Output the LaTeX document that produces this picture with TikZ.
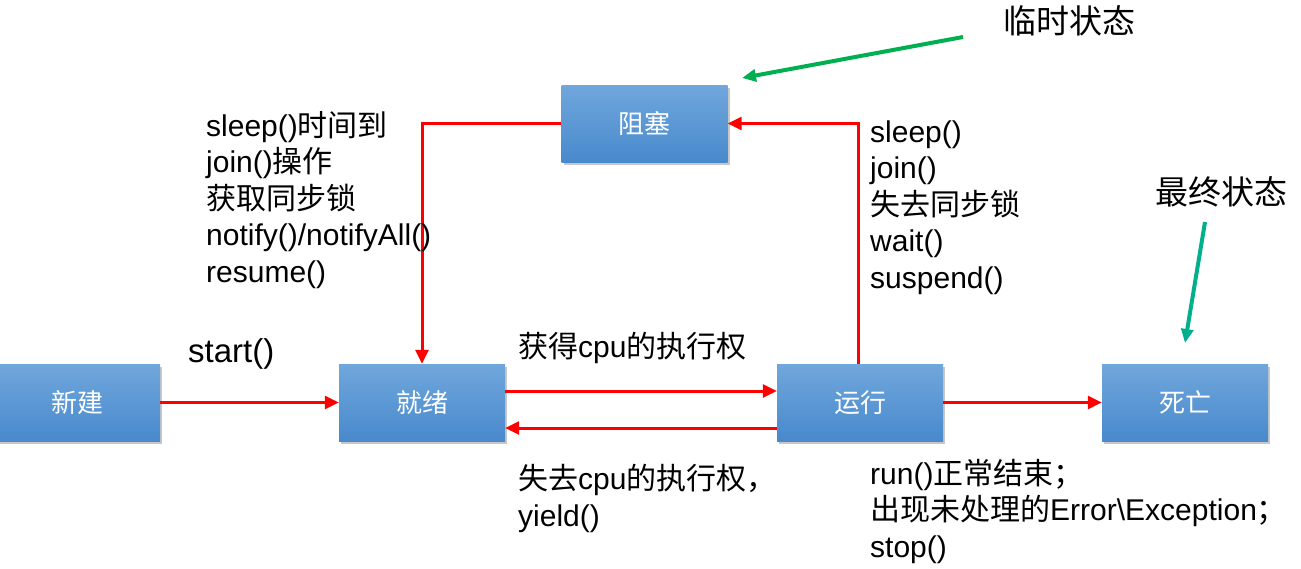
\documentclass[tikz,border=0pt]{standalone}
\usepackage{fontspec}
\setmainfont{Liberation Sans}
\newfontfamily\cjk{Noto Sans CJK SC}
\newcommand{\zh}[1]{{\cjk #1}}
\usetikzlibrary{arrows.meta,shadows}
\definecolor{boxtop}{RGB}{112,167,220}
\definecolor{boxbot}{RGB}{72,137,204}
\definecolor{redline}{RGB}{255,0,0}
\definecolor{greenA}{RGB}{0,176,80}
\definecolor{greenB}{RGB}{0,176,140}
\begin{document}
\begin{tikzpicture}[x=1pt,y=-1pt,
  statebox/.style={rectangle, minimum width=166pt, minimum height=77pt, inner sep=0pt,
    top color=boxtop, bottom color=boxbot, draw=none, text=white,
    font=\fontsize{26}{30}\selectfont\cjk,
    drop shadow={shadow xshift=2pt, shadow yshift=-3pt, fill=black, opacity=0.22}},
  redarrow/.style={draw=redline, line width=3pt, -{Triangle[length=14pt,width=13pt]}},
  greenarrow/.style={line width=4pt, -{Triangle[length=14pt,width=12pt]}},
  lbl/.style={inner sep=0pt, anchor=base west, align=left,
    font=\fontsize{30}{36.5}\selectfont},
  big/.style={inner sep=0pt, anchor=base west, font=\fontsize{33}{38}\selectfont}]
\useasboundingbox (0,0) rectangle (1301,568);
% states
\node[statebox] (xj) at (77,402.5) {新建};
\node[statebox] (jx) at (422,402.5) {就绪};
\node[statebox] (yx) at (860,402.5) {运行};
\node[statebox] (sw) at (1185,402.5) {死亡};
\node[statebox] (zs) at (644.5,123.5) {阻塞};
% connectors
\draw[redarrow] (xj.east) -- (jx.west);
\draw[redarrow] ([yshift=11.5pt]jx.east) -- ([yshift=11.5pt]yx.west);
\draw[redarrow] ([yshift=-25.5pt]yx.west) -- ([yshift=-25.5pt]jx.east);
\draw[redarrow] (yx.east) -- (sw.west);
\draw[redarrow] ([xshift=-2pt]yx.north) |- (zs.east);
\draw[redarrow] (zs.west) -| (jx.north);
% labels (anchor = baseline of last line)
\node[big] (start) at (188,362) {start()};
\node[lbl] (leftlbl) at (206,282) {sleep()\zh{时间到}\\join()\zh{操作}\\\zh{获取同步锁}\\notify()/notifyAll()\\resume()};
\node[lbl] (rightlbl) at (870,288) {sleep()\\join()\\\zh{失去同步锁}\\wait()\\suspend()};
\node[lbl] (getcpu) at (518,357) {\zh{获得}cpu\zh{的执行权}};
\node[lbl] (losecpu) at (518,526) {\zh{失去}cpu\zh{的执行权，}\\yield()};
\node[lbl] (endlbl) at (870,557) {run()\zh{正常结束；}\\\zh{出现未处理的}Error\textbackslash Exception\zh{；}\\stop()};
% annotations
\node[big] (temp) at (1003,33) {\zh{临时状态}};
\node[big] (final) at (1155,204) {\zh{最终状态}};
\coordinate (tA) at (963,37);
\coordinate (tB) at (742,78);
\coordinate (fA) at (1205,222);
\coordinate (fB) at (1185,343);
\draw[greenarrow, greenA] (tA) -- (tB);
\draw[greenarrow, greenB] (fA) -- (fB);
\end{tikzpicture}
\end{document}
